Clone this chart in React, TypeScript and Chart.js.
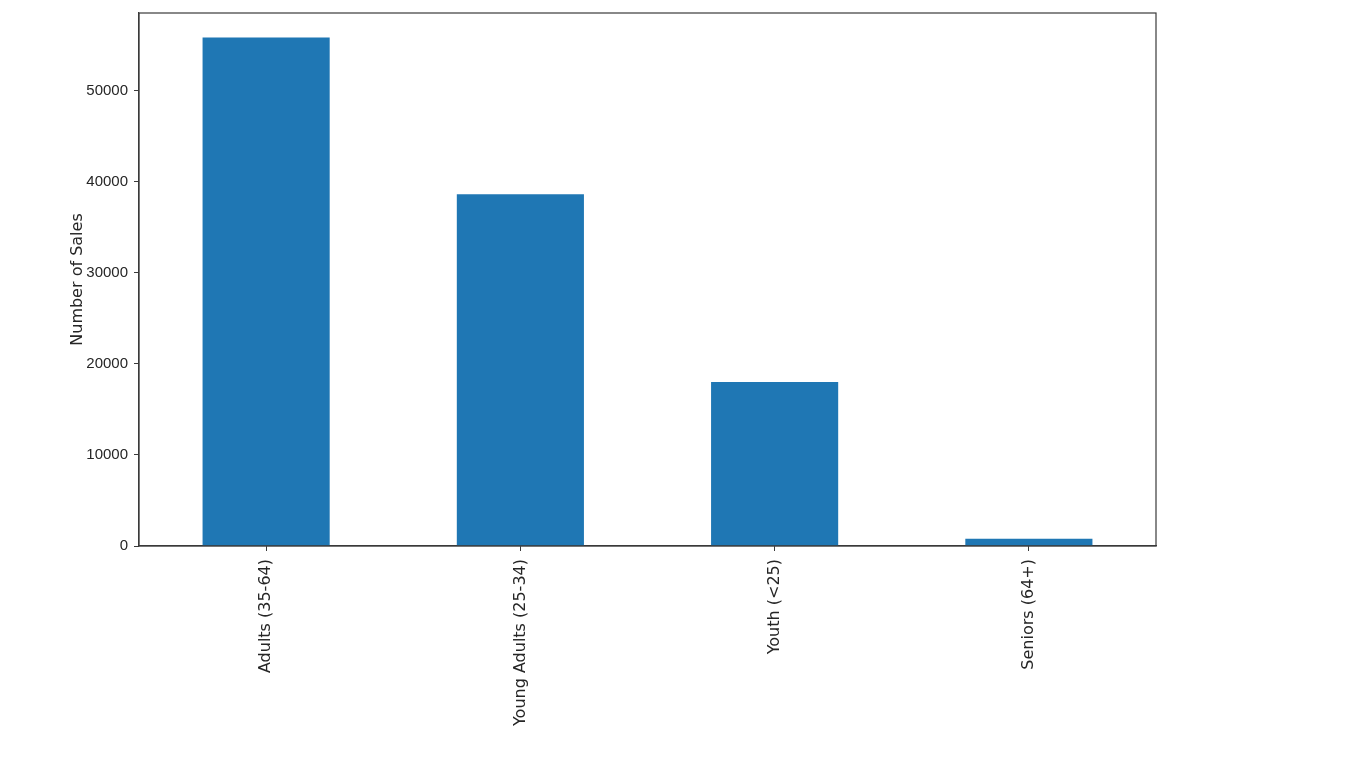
import React, { useEffect, useRef } from "react";
import { Chart, registerables } from "chart.js";

Chart.register(...registerables);

const categories = ["Adults (35-64)", "Young Adults (25-34)", "Youth (<25)", "Seniors (64+)"];
const salesCounts = [55800, 38600, 18000, 800];
const yTicks = [0, 10000, 20000, 30000, 40000, 50000];
const yMax = 58500;
const yTitle = "Number of Sales";

const spineColor = "#3a3a3a";
const textColor = "#262626";

const boxPlugin = {
  id: "boxSpines",
  afterDraw(chart: any) {
    const { ctx, chartArea } = chart;
    ctx.save();
    ctx.strokeStyle = spineColor;
    ctx.lineWidth = 1.2;
    ctx.strokeRect(chartArea.left, chartArea.top, chartArea.right - chartArea.left, chartArea.bottom - chartArea.top);
    ctx.restore();
  },
};

export default function App() {
  const ref = useRef<HTMLCanvasElement | null>(null);

  useEffect(() => {
    if (!ref.current) return;
    const chart = new Chart(ref.current, {
      type: "bar",
      data: {
        labels: categories,
        datasets: [
          {
            data: salesCounts,
            backgroundColor: "#1f77b4",
            borderWidth: 0,
            barPercentage: 0.5,
            categoryPercentage: 1,
          },
        ],
      },
      options: {
        responsive: false,
        animation: false,
        layout: { padding: { top: 13, right: 210, left: 0, bottom: 0 } },
        plugins: {
          legend: { display: false },
          tooltip: { enabled: false },
        },
        scales: {
          x: {
            offset: true,
            grid: {
              display: true,
              drawOnChartArea: false,
              tickLength: 5,
              color: spineColor,
              offset: false,
            },
            border: { display: true, color: spineColor, width: 1.2 },
            ticks: {
              minRotation: 90,
              maxRotation: 90,
              autoSkip: false,
              padding: 8,
              color: textColor,
              font: { family: "'DejaVu Sans', sans-serif", size: 16 },
            },
            afterFit(scale: any) {
              scale.height = 222;
              scale.paddingLeft = 0;
              scale.paddingRight = 0;
            },
          },
          y: {
            min: 0,
            max: yMax,
            grid: {
              display: true,
              drawOnChartArea: false,
              tickLength: 5,
              color: spineColor,
            },
            border: { display: true, color: spineColor, width: 1.2 },
            ticks: {
              padding: 6,
              color: textColor,
              font: { family: "'Liberation Sans', sans-serif", size: 15 },
              callback: (v: any) => String(v),
            },
            afterBuildTicks(scale: any) {
              scale.ticks = yTicks.map((v) => ({ value: v }));
            },
            title: {
              display: true,
              text: yTitle,
              color: textColor,
              font: { family: "'DejaVu Sans', sans-serif", size: 16 },
              padding: { top: 68, bottom: 0 },
            },
            afterFit(scale: any) {
              scale.width = 139;
              scale.paddingTop = 0;
              scale.paddingBottom = 0;
            },
          },
        },
      },
      plugins: [boxPlugin],
    });
    return () => chart.destroy();
  }, []);

  return (
    <div style={{ position: "absolute", left: 0, top: 0, width: 1366, height: 768, background: "#fff" }}>
      <canvas ref={ref} width={1366} height={768} style={{ display: "block" }} />
    </div>
  );
}
